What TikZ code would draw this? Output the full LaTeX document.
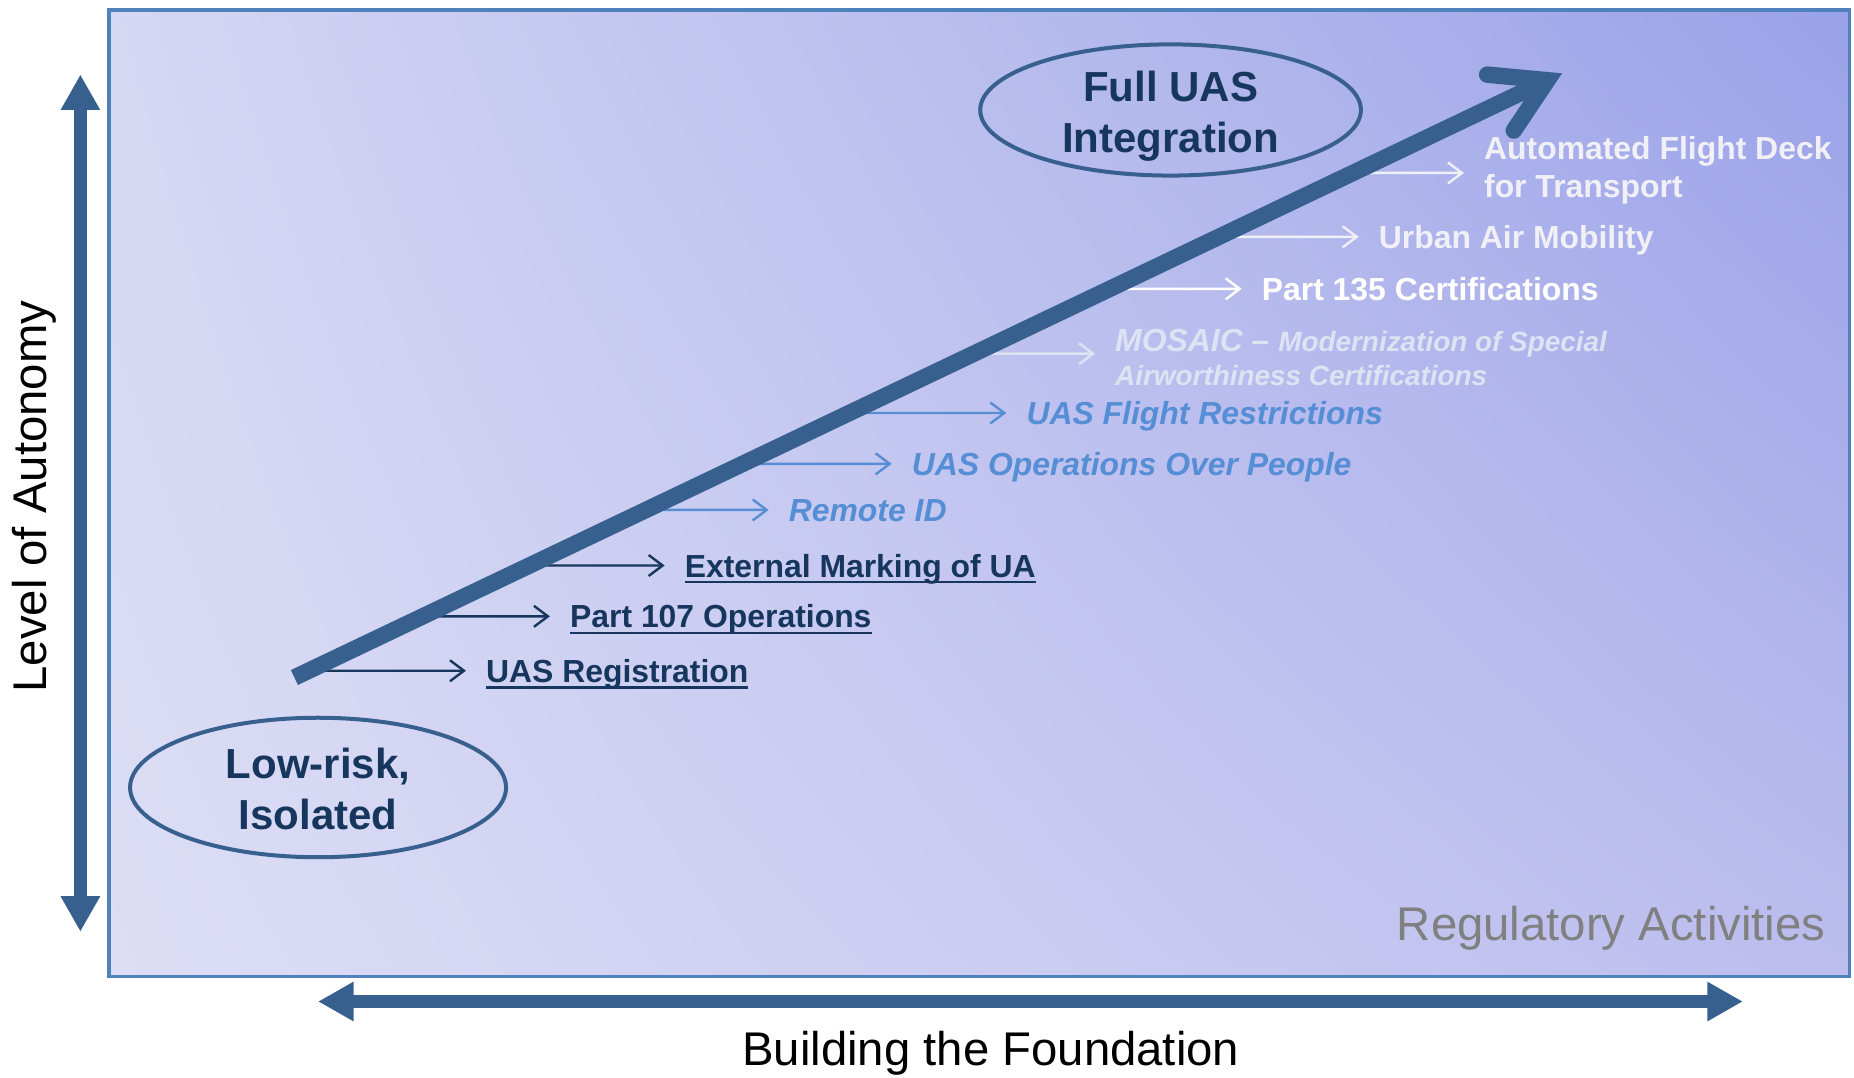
\documentclass[tikz,border=0pt]{standalone}
\usepackage{fontspec}
\setmainfont{Liberation Sans}
\usetikzlibrary{arrows.meta,shapes.geometric}
\definecolor{boxborder}{HTML}{4F81BD}
\definecolor{steel}{HTML}{37608F}
\definecolor{navy}{HTML}{17365D}
\definecolor{bluetxt}{HTML}{558ED5}
\definecolor{pale}{HTML}{DDE3F2}
\definecolor{offwhite}{HTML}{F0F0F6}
\definecolor{graytxt}{HTML}{808080}
% bilinear background: corners BL DDDEF5, BR BCBDEE, TL D5D7F3, TR 9AA2E8
\pgfdeclarefunctionalshading{panelshade}{\pgfpointorigin}{\pgfpoint{100bp}{100bp}}{}{%
  25 sub 50 div exch 25 sub 50 div exch
  2 copy mul
  2 index -0.130 mul 2 index -0.032 mul add 1 index -0.101 mul add 0.867 add
  3 index -0.130 mul 3 index -0.028 mul add 2 index -0.078 mul add 0.871 add
  4 index -0.028 mul 4 index -0.008 mul add 3 index -0.015 mul add 0.961 add
  6 3 roll pop pop pop
}
\newcommand\ulin[1]{\setbox0\hbox{#1}\rlap{\rule[-0.2em]{\wd0}{0.07em}}\box0}
\newcommand\branch[3][0pt]{%
  \coordinate (#2e) at ([xshift=-20pt,yshift=#1]#2.west);
  \coordinate (#2f) at ([xshift=-80pt,yshift=#1]#2.west);
  \coordinate (#2s) at (intersection of dstart--dtip and #2e--#2f);
  \draw[#3] (#2s) -- (#2e);}
\begin{document}
\begin{tikzpicture}[x=1.1824pt,y=-1.1824pt,
  bigfont/.style={font=\fontsize{47.3}{56}\selectfont, inner sep=0pt},
  ellfont/.style={font=\fontsize{42}{50.8}\selectfont\bfseries, text=navy, align=center, inner sep=0pt},
  oval/.style={ellipse, draw=steel, line width=4pt, inner sep=0pt},
  lab/.style={anchor=base west, inner sep=0pt, text height=23pt, text depth=0pt},
  upright/.style={lab, font=\fontsize{31.9}{39}\selectfont\bfseries},
  slanted/.style={lab, font=\fontsize{31.9}{39}\selectfont\bfseries\itshape},
  axisarrow/.style={steel, line width=12.4pt, {Triangle[length=35.5pt,width=37pt]}-{Triangle[length=35.5pt,width=37pt]}},
  twig/.style={line width=2.4pt, -{Straight Barb[length=14pt,width=21pt]}},
]
\useasboundingbox (0,0) rectangle (1568,911);
% background panel
\shade[shading=panelshade] (92,8.5) rectangle (1564,826);
\draw[boxborder, line width=3.5pt] (92,8.5) rectangle (1564,826);

% axes
\coordinate (vtop) at (68,63);
\coordinate (vbot) at (68,788);
\draw[axisarrow] (vbot) -- (vtop);
\coordinate (hleft) at (269,847);
\coordinate (hright) at (1474,847);
\draw[axisarrow] (hleft) -- (hright);

\node[bigfont, rotate=90, anchor=base] (autonomy) at (39,420) {Level of Autonomy};
\node[bigfont, anchor=base] (found) at (838,901) {Building the Foundation};
\node[bigfont, anchor=base east, text=graytxt] (regact) at (1544,795) {Regulatory Activities};

% ovals
\node[oval, minimum width=380.7pt, minimum height=131.2pt] (fulloval) at (990,93) {};
\node[ellfont] (fulltxt) at (990,98) {Full UAS\\Integration};
\node[oval, minimum width=376pt, minimum height=139.5pt] (lowoval) at (269,666) {};
\node[ellfont] (lowtxt) at (269,667) {Low-risk,\\Isolated};

% labels
\node[upright, text=navy] (reg1) at (411,577) {\ulin{UAS Registration}};
\node[upright, text=navy] (p107) at (482,531) {\ulin{Part 107 Operations}};
\node[upright, text=navy] (ext) at (579,488) {\ulin{External Marking of UA}};
\node[slanted, text=bluetxt] (rid) at (667,441) {Remote ID};
\node[slanted, text=bluetxt] (oop) at (771,402) {UAS Operations Over People};
\node[slanted, text=bluetxt] (ufr) at (868,359) {UAS Flight Restrictions};
\node[slanted, text=pale] (mos) at (943,297) {MOSAIC – {\fontsize{27.9}{35.5}\selectfont Modernization of Special}};
\node[slanted, text=pale, font=\fontsize{27.9}{35.5}\selectfont\bfseries\itshape] (mostwo) at (943,326) {Airworthiness Certifications};
\node[upright, text=white] (pcert) at (1067,254) {Part 135 Certifications};
\node[upright, text=offwhite] (uam) at (1166,210) {Urban Air Mobility};
\node[upright, text=offwhite] (afd) at (1255,135) {Automated Flight Deck};
\node[upright, text=offwhite] (afdtwo) at (1255,167) {for Transport};

% main diagonal
\coordinate (dstart) at (249,573);
\coordinate (dtip) at (1321,62);

\branch{reg1}{twig, navy}
\branch{p107}{twig, navy}
\branch{ext}{twig, navy}
\branch{rid}{twig, bluetxt}
\branch{oop}{twig, bluetxt}
\branch{ufr}{twig, bluetxt}
\branch[-14pt]{mos}{twig, pale}
\branch{pcert}{twig, white}
\branch{uam}{twig, offwhite}
\branch[-24.8pt]{afd}{twig, offwhite}

\draw[steel, line width=16.5pt, -{Straight Barb[length=52pt,width=62pt,line cap=round,line join=miter]}] (dstart) -- (dtip);
\end{tikzpicture}
\end{document}
